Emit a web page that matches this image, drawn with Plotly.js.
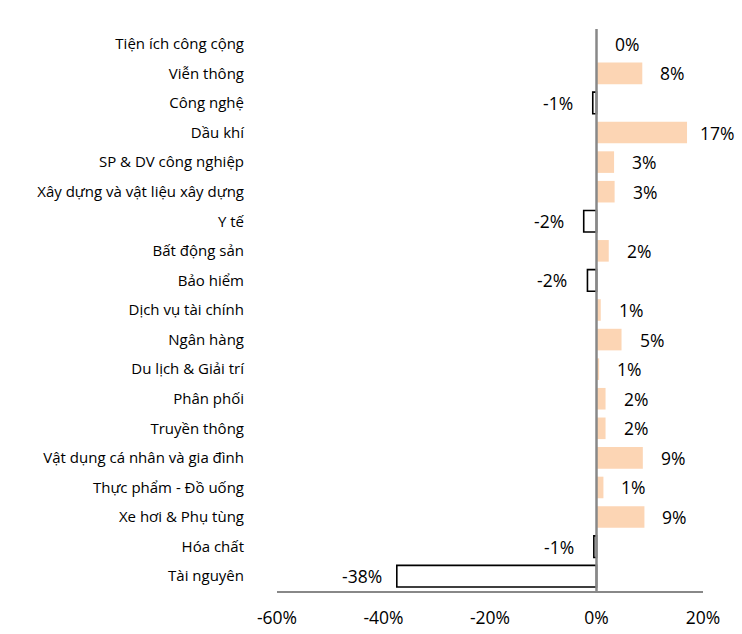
<!DOCTYPE html>
<html>
<head>
<meta charset="utf-8">
<script src="https://cdn.plot.ly/plotly-3.0.1.min.js"></script>
<style>html,body{margin:0;padding:0;background:#fff;}#chart{width:742px;height:634px;}</style>
</head>
<body>
<div id="chart"></div>
<script>
const categories = [
  "Tiện ích công cộng", "Viễn thông", "Công nghệ", "Dầu khí", "SP & DV công nghiệp",
  "Xây dựng và vật liệu xây dựng", "Y tế", "Bất động sản", "Bảo hiểm", "Dịch vụ tài chính",
  "Ngân hàng", "Du lịch & Giải trí", "Phân phối", "Truyền thông", "Vật dụng cá nhân và gia đình",
  "Thực phẩm - Đồ uống", "Xe hơi & Phụ tùng", "Hóa chất", "Tài nguyên"
];
const values = [0.1, 8.6, -0.7, 17.0, 3.3, 3.4, -2.4, 2.3, -1.7, 0.8, 4.7, 0.5, 1.7, 1.7, 8.7, 1.3, 9.0, -0.5, -37.5];
const labels = ["0%", "8%", "-1%", "17%", "3%", "3%", "-2%", "2%", "-2%", "1%", "5%", "1%", "2%", "2%", "9%", "1%", "9%", "-1%", "-38%"];
const tickVals = [-60, -40, -20, 0, 20];
const tickText = ["-60%", "-40%", "-20%", "0%", "20%"];

const FONT = "Open Sans, Noto Sans, sans-serif";
const POS = "#FCD5B4";

const trace = {
  type: "bar",
  orientation: "h",
  x: values,
  y: categories,
  marker: {
    color: values.map(v => v >= 0 ? POS : "#FFFFFF"),
    line: { color: values.map(v => v >= 0 ? POS : "#000000"), width: values.map(v => v >= 0 ? 0 : 1.6) }
  },
  hoverinfo: "skip"
};

const annotations = values.map((v, i) => ({
  x: v, y: categories[i], xref: "x", yref: "y",
  text: labels[i], showarrow: false,
  xanchor: "center", yanchor: "middle",
  xshift: v >= 0 ? 30 : -35,
  font: { family: FONT, size: 17.5, color: "#000" }
}));

const layout = {
  width: 742, height: 634,
  margin: { l: 277, r: 39, t: 29, b: 43, pad: 0 },
  paper_bgcolor: "#fff", plot_bgcolor: "#fff",
  showlegend: false,
  bargap: 0.27,
  font: { family: FONT, color: "#000" },
  xaxis: {
    range: [-60, 20], tickvals: tickVals, ticktext: tickText,
    showgrid: false, zeroline: false,
    showline: true, linecolor: "#888888", linewidth: 2,
    ticks: "", ticklabelstandoff: 10,
    tickfont: { family: FONT, size: 17.5, color: "#000" },
    fixedrange: true
  },
  yaxis: {
    type: "category", autorange: "reversed",
    showgrid: false, zeroline: false, showline: false,
    ticks: "", ticklabelstandoff: 32,
    tickfont: { family: FONT, size: 15, color: "#000" },
    fixedrange: true
  },
  shapes: [{
    type: "line", xref: "x", yref: "paper", x0: 0, x1: 0, y0: 0, y1: 1,
    line: { color: "#888888", width: 2.5 }, layer: "above"
  }],
  annotations: annotations
};

Plotly.newPlot("chart", [trace], layout, { displayModeBar: false, staticPlot: true });
</script>
</body>
</html>
